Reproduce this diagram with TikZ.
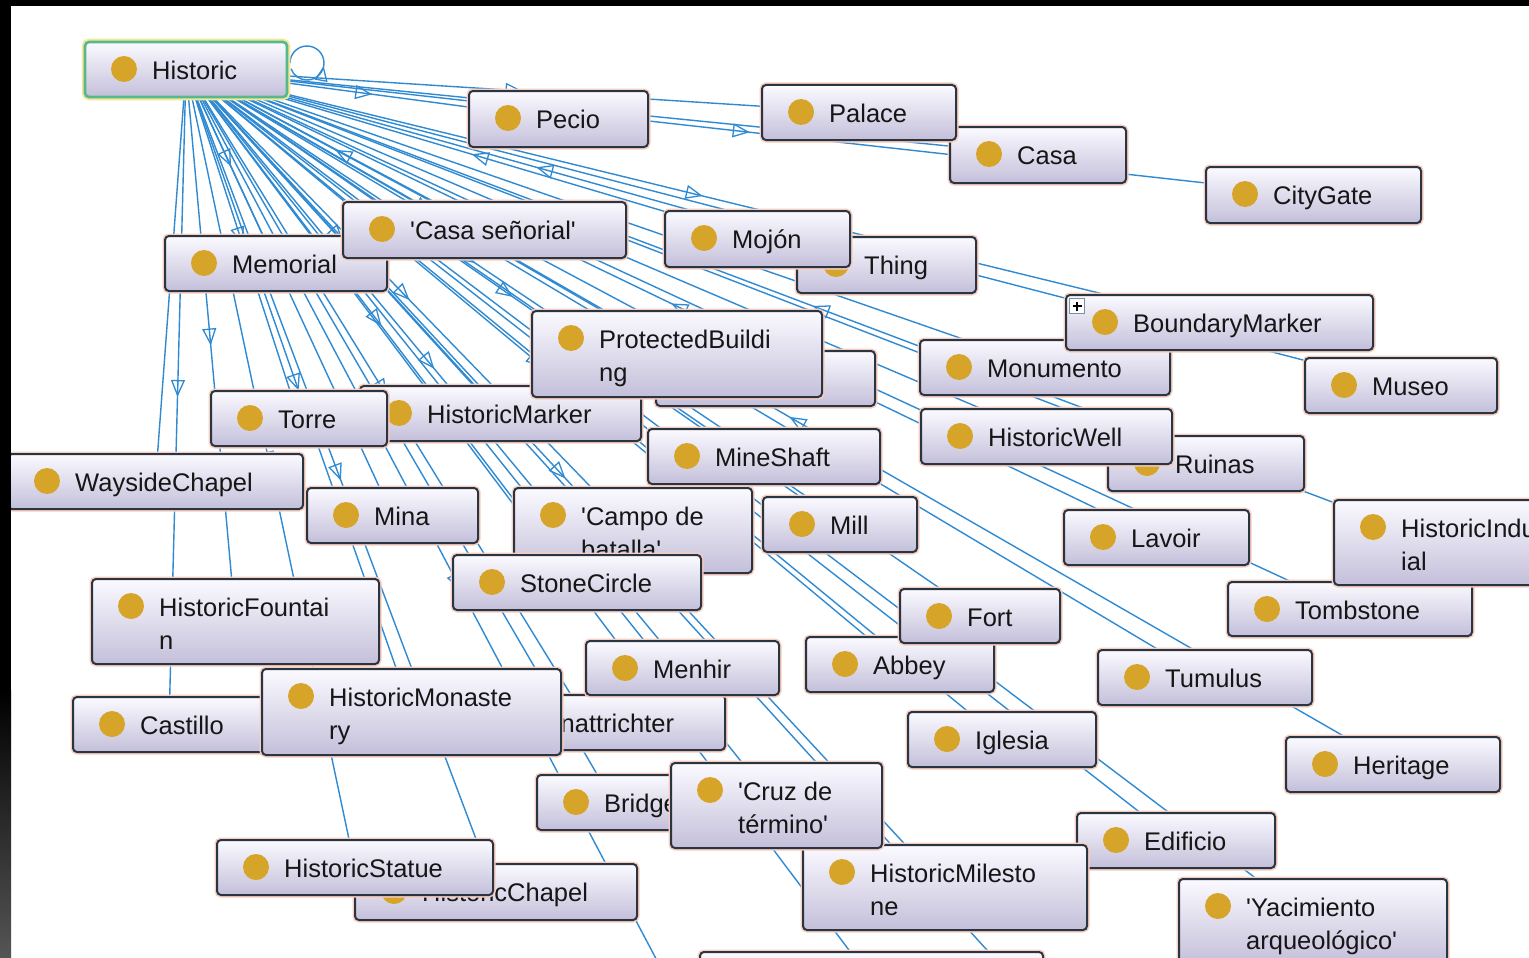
\documentclass[tikz,border=0pt]{standalone}
\usepackage{fontspec}
\newfontfamily\uifont{Liberation Sans}
\usetikzlibrary{arrows.meta,decorations.markings}

\definecolor{wirec}{HTML}{2F8AD2}
\definecolor{boxline}{HTML}{2A3541}
\definecolor{boxtop}{HTML}{FBFAFF}
\definecolor{boxbot}{HTML}{C4BFDA}
\definecolor{boxglow}{HTML}{F6CDBE}
\definecolor{dotc}{HTML}{D6A428}
\definecolor{selline}{HTML}{56B98C}
\definecolor{selglow}{HTML}{F1E79E}
\definecolor{inkc}{HTML}{161616}
\definecolor{frameg}{HTML}{555555}
\definecolor{plusline}{HTML}{7C8EA0}

\pgfdeclarelayer{paper}
\pgfdeclarelayer{wires}
\pgfdeclarelayer{frame}
\pgfsetlayers{paper,wires,main,frame}

\tikzset{
  clsbox/.style={rectangle, rounded corners=4pt, draw=boxline, line width=2pt,
    top color=boxtop, bottom color=boxbot, outer sep=0pt, inner sep=0pt,
    preaction={draw=boxglow, line width=5pt}},
  selbox/.style={clsbox, draw=selline, line width=2.6pt,
    preaction={draw=selglow, line width=6.5pt}},
  lbl/.style={font=\uifont\fontsize{25.5}{31}\selectfont, text=inkc,
    inner sep=0pt, anchor=base west},
  wire/.style={draw=wirec, line width=1.4pt},
  fwd/.style={postaction={decorate}, decoration={markings,
    mark=at position 0.5 with {\arrow[wirec, line width=1.3pt]{Triangle[open,length=17pt,width=14pt]}}}},
  bwd/.style={postaction={decorate}, decoration={markings,
    mark=at position 0.5 with {\arrowreversed[wirec, line width=1.3pt]{Triangle[open,length=17pt,width=14pt]}}}},
  loopmark/.style={postaction={decorate}, decoration={markings,
    mark=at position 0.56 with {\arrowreversed[wirec, line width=1.3pt]{Triangle[open,length=15pt,width=13pt]}}}},
  plusbox/.style={rectangle, minimum size=15pt, inner sep=0pt, draw=plusline,
    fill=white, line width=1pt}
}

% class box: [style]{name}{left}{top}{right}{bottom}, with its coloured dot
\newcommand\classbox[6][clsbox]{%
  \node[#1, minimum width={#5-#3}, minimum height={#6-#4}, anchor=north west] (#2) at (#3,#4) {};
  \fill[dotc] ([shift={(39,27)}]#2.north west) circle[radius=13];
}
\newcommand\classname[2]{%
  \node[lbl] (#1-t) at ([shift={(67,37.5)}]#1.north west) {#2};
}
\newcommand\classnames[3]{%
  \node[lbl] (#1-t) at ([shift={(67,37.5)}]#1.north west) {#2};
  \node[lbl] (#1-u) at ([shift={(67,70.5)}]#1.north west) {#3};
}

\begin{document}
\begin{tikzpicture}[x=1pt,y=-1pt]
\useasboundingbox (0,0) rectangle (1529,958);
\begin{pgfonlayer}{paper}
  \fill[white] (0,0) rectangle (1529,958);
\end{pgfonlayer}

% ---- class boxes, lower ones first ----
\classbox[selbox]{historic}{85}{42}{287}{97}          \classname{historic}{Historic}
\classbox{pecio}{469}{91}{648}{147}                   \classname{pecio}{Pecio}
\classbox{casa}{950}{127}{1126}{183}                  \classname{casa}{Casa}
\classbox{palace}{762}{85}{956}{140}                  \classname{palace}{Palace}
\classbox{citygate}{1206}{167}{1421}{223}             \classname{citygate}{CityGate}
\classbox{hidden}{656}{351}{875}{406}
\classbox{thing}{797}{237}{976}{293}                  \classname{thing}{Thing}
\classbox{mojon}{665}{211}{850}{267}                  \classname{mojon}{Mojón}
\classbox{memorial}{165}{236}{387}{291}               \classname{memorial}{Memorial}
\classbox{casasen}{343}{202}{626}{258}                \classname{casasen}{\textquotesingle Casa señorial\textquotesingle}
\classbox{monumento}{920}{340}{1170}{395}             \classname{monumento}{Monumento}
\classbox{boundary}{1066}{295}{1373}{350}             \classname{boundary}{BoundaryMarker}
\node[plusbox] (boundary-plus) at ([shift={(11,11)}]boundary.north west) {};
\draw[line width=1.6pt] ([xshift=-4.5pt]boundary-plus.center) -- ([xshift=4.5pt]boundary-plus.center);
\draw[line width=1.6pt] ([yshift=-4.5pt]boundary-plus.center) -- ([yshift=4.5pt]boundary-plus.center);
\classbox{museo}{1305}{358}{1497}{413}                \classname{museo}{Museo}
\classbox{hmarker}{360}{386}{641}{441}                \classname{hmarker}{HistoricMarker}
\classbox{torre}{211}{391}{387}{446}                  \classname{torre}{Torre}
\classbox{protected}{532}{311}{822}{397}              \classnames{protected}{ProtectedBuildi}{ng}
\classbox{ruinas}{1108}{436}{1304}{491}               \classname{ruinas}{Ruinas}
\classbox{hwell}{921}{409}{1172}{464}                 \classname{hwell}{HistoricWell}
\classbox{mineshaft}{648}{429}{880}{484}              \classname{mineshaft}{MineShaft}
\classbox{wayside}{8}{454}{303}{509}                  \classname{wayside}{WaysideChapel}
\classbox{mina}{307}{488}{478}{543}                   \classname{mina}{Mina}
\classbox{campo}{514}{488}{752}{573}                  \classnames{campo}{\textquotesingle Campo de}{batalla\textquotesingle}
\classbox{stone}{453}{555}{701}{610}                  \classname{stone}{StoneCircle}
\classbox{mill}{763}{497}{917}{552}                   \classname{mill}{Mill}
\classbox{lavoir}{1064}{510}{1249}{565}               \classname{lavoir}{Lavoir}
\classbox{tomb}{1228}{582}{1472}{636}                 \classname{tomb}{Tombstone}
\classbox{hind}{1334}{500}{1545}{585}                 \classnames{hind}{HistoricIndustr}{ial}
\classbox{fountain}{92}{579}{379}{664}                \classnames{fountain}{HistoricFountai}{n}
\classbox{abbey}{806}{637}{994}{692}                  \classname{abbey}{Abbey}
\classbox{fort}{900}{589}{1060}{643}                  \classname{fort}{Fort}
\classbox{granat}{451}{695}{725}{750}                 \classname{granat}{Granattrichter}
\classbox{menhir}{586}{641}{779}{695}                 \classname{menhir}{Menhir}
\classbox{tumulus}{1098}{650}{1312}{705}              \classname{tumulus}{Tumulus}
\classbox{castillo}{73}{697}{265}{752}                \classname{castillo}{Castillo}
\classbox{monastery}{262}{669}{561}{755}              \classnames{monastery}{HistoricMonaste}{ry}
\classbox{iglesia}{908}{712}{1096}{767}               \classname{iglesia}{Iglesia}
\classbox{heritage}{1286}{737}{1500}{792}             \classname{heritage}{Heritage}
\classbox{bridge}{537}{775}{690}{830}                 \classname{bridge}{Bridge}
\classbox{edificio}{1077}{813}{1275}{868}             \classname{edificio}{Edificio}
\classbox{milestone}{803}{845}{1087}{930}             \classnames{milestone}{HistoricMilesto}{ne}
\classbox{cruz}{671}{763}{882}{848}                   \classnames{cruz}{\textquotesingle Cruz de}{término\textquotesingle}
\classbox{hchapel}{355}{864}{637}{920}                \classname{hchapel}{HistoricChapel}
\classbox{hstatue}{217}{840}{493}{895}                \classname{hstatue}{HistoricStatue}
\classbox{yacim}{1179}{879}{1447}{964}                \classnames{yacim}{\textquotesingle Yacimiento}{arqueológico\textquotesingle}
\classbox{bottom}{700}{952}{1043}{1008}
\coordinate (offa) at (736,1110);
\coordinate (offb) at (1087,1060);

% ---- subclass links, all running behind the boxes ----
\begin{pgfonlayer}{wires}
  \foreach \t in {pecio,palace,casa,citygate,memorial,boundary,protected,hidden,
      monumento,museo,hmarker,torre,hwell,ruinas,mineshaft,wayside,mina,campo,
      mill,stone,fountain,tomb,fort,menhir,abbey,tumulus,castillo,monastery,
      granat,iglesia,bridge,cruz,edificio,hstatue,hchapel,milestone,yacim,
      bottom,offa,offb}
    \draw[wire,fwd] (historic.center) -- (\t.center);
  \foreach \t in {casasen,mojon,thing,lavoir,hind,heritage}
    \draw[wire,bwd] (historic.center) -- (\t.center);
  \draw[wire,loopmark] ([shift={(3,21)}]historic.north east)
    arc[start angle=180, end angle=520, radius=17];
\end{pgfonlayer}

% ---- window frame ----
\begin{pgfonlayer}{frame}
  \fill[black] (0,0) rectangle (1529,6);
  \fill[black] (0,0) rectangle (11,690);
  \shade[top color=black, bottom color=frameg] (0,690) rectangle (11,958);
\end{pgfonlayer}
\end{tikzpicture}
\end{document}
